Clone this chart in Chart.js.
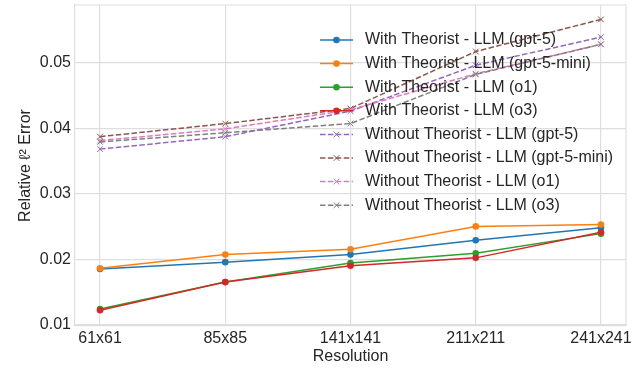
<!DOCTYPE html>
<html><head><meta charset="utf-8">
<script src="https://cdn.jsdelivr.net/npm/chart.js@4"></script>
<style>html,body{margin:0;padding:0;background:#fff}#wrap{width:644px;height:368px;position:relative}</style>
</head><body><div id="wrap"><canvas id="c"></canvas></div>
<script>
const resolutions = ['61x61','85x85','141x141','211x211','241x241'];
const seriesLabels = [
  'With Theorist - LLM (gpt-5)',
  'With Theorist - LLM (gpt-5-mini)',
  'With Theorist - LLM (o1)',
  'With Theorist - LLM (o3)',
  'Without Theorist - LLM (gpt-5)',
  'Without Theorist - LLM (gpt-5-mini)',
  'Without Theorist - LLM (o1)',
  'Without Theorist - LLM (o3)'
];
const withGpt5 = [0.0185, 0.01955, 0.0207, 0.0229, 0.0248];
const withGpt5Mini = [0.0186, 0.0207, 0.0215, 0.0250, 0.0253];
const withO1 = [0.0124, 0.0165, 0.0194, 0.0209, 0.0239];
const withO3 = [0.0122, 0.0165, 0.0190, 0.0202, 0.0241];
const withoutGpt5 = [0.0368, 0.0387, 0.0426, 0.0496, 0.0539];
const withoutGpt5Mini = [0.0387, 0.0407, 0.0430, 0.0517, 0.0566];
const withoutO1 = [0.0381, 0.0399, 0.0428, 0.0483, 0.0528];
const withoutO3 = [0.0379, 0.0393, 0.0407, 0.0482, 0.0528];
const yTicks = [0.01, 0.02, 0.03, 0.04, 0.05];

const seriesValues = [withGpt5, withGpt5Mini, withO1, withO3, withoutGpt5, withoutGpt5Mini, withoutO1, withoutO3];
const colors = ['#1f77b4','#ff7f0e','#2ca02c','#d62728','#9467bd','#8c564b','#e377c2','#7f7f7f'];
const FONT = "'Liberation Sans', Arial, sans-serif";
const TXT = '#262626';
const GRID = '#dedede';

const datasets = seriesValues.map((vals, i) => {
  const dashed = i >= 4;
  return {
    label: seriesLabels[i],
    data: vals.map((v, j) => ({x: j, y: v})),
    borderColor: colors[i],
    backgroundColor: colors[i],
    borderWidth: 1.5,
    borderDash: dashed ? [5.5, 2.4] : [],
    pointStyle: dashed ? 'crossRot' : 'circle',
    pointRadius: dashed ? 4 : 3.3,
    pointBorderWidth: dashed ? 1 : 0,
    pointBorderColor: colors[i],
    pointBackgroundColor: colors[i],
    tension: 0,
    order: 20 - i
  };
});

const legendPlugin = {
  id: 'mplLegend',
  afterDatasetsDraw(chart) {
    const ctx = chart.ctx;
    const a = chart.chartArea;
    ctx.save();
    // top and right spines
    ctx.strokeStyle = GRID; ctx.lineWidth = 1.2;
    ctx.beginPath();
    ctx.moveTo(a.left, a.top); ctx.lineTo(a.right, a.top); ctx.lineTo(a.right, a.bottom);
    ctx.stroke();
    const x0 = 320, x1 = 353, tx = 365, y0 = 40, dy = 23.6;
    chart.data.datasets.forEach((ds, i) => {
      const y = y0 + i * dy;
      ctx.strokeStyle = ds.borderColor;
      ctx.lineWidth = 1.5;
      ctx.setLineDash(ds.borderDash);
      ctx.beginPath(); ctx.moveTo(x0, y); ctx.lineTo(x1, y); ctx.stroke();
      ctx.setLineDash([]);
      const mx = (x0 + x1) / 2;
      if (ds.pointStyle === 'circle') {
        ctx.fillStyle = ds.borderColor;
        ctx.beginPath(); ctx.arc(mx, y, 3.3, 0, Math.PI * 2); ctx.fill();
      } else {
        ctx.lineWidth = 1;
        const r = 4 * Math.SQRT1_2;
        ctx.beginPath();
        ctx.moveTo(mx - r, y - r); ctx.lineTo(mx + r, y + r);
        ctx.moveTo(mx - r, y + r); ctx.lineTo(mx + r, y - r);
        ctx.stroke();
      }
      ctx.fillStyle = TXT;
      ctx.font = '16px ' + FONT;
      ctx.textBaseline = 'middle';
      ctx.textAlign = 'left';
      ctx.fillText(ds.label, tx, y);
    });
    ctx.restore();
  }
};

new Chart(document.getElementById('c'), {
  type: 'line',
  data: { datasets },
  plugins: [legendPlugin],
  options: {
    responsive: true,
    maintainAspectRatio: false,
    animation: false,
    layout: { padding: { top: 2, right: 18, bottom: 0, left: 0 } },
    plugins: { legend: { display: false }, tooltip: { enabled: false } },
    scales: {
      x: {
        type: 'linear',
        min: -0.2,
        max: 4.2,
        afterFit(s) { s.height = 42; s.paddingLeft = 0; s.paddingRight = 0; },
        afterBuildTicks(s) { s.ticks = resolutions.map((_, i) => ({ value: i })); },
        ticks: {
          stepSize: 1,
          includeBounds: false,
          padding: 3,
          color: TXT,
          font: { family: FONT, size: 16 },
          maxRotation: 0,
          callback: (v) => resolutions[v] ?? ''
        },
        grid: { color: GRID, lineWidth: 1.2, drawTicks: false },
        border: { color: GRID, width: 1.2 },
        title: { display: true, text: 'Resolution', color: TXT, font: { family: FONT, size: 16 }, padding: { top: 0, bottom: 1.5 } }
      },
      y: {
        type: 'linear',
        min: 0.0098,
        max: 0.0588,
        afterFit(s) { s.width = 75; s.paddingTop = 0; s.paddingBottom = 0; },
        afterBuildTicks(s) { s.ticks = yTicks.map(v => ({ value: v })); },
        ticks: {
          padding: 4,
          color: TXT,
          font: { family: FONT, size: 16 },
          callback: (v) => Number(v).toFixed(2)
        },
        grid: { color: GRID, lineWidth: 1.2, drawTicks: false },
        border: { color: GRID, width: 1.2 },
        title: { display: true, text: 'Relative ℓ² Error', color: TXT, font: { family: FONT, size: 16 }, padding: { top: 16.4, bottom: 0 } }
      }
    }
  },
});
</script>
</body></html>
